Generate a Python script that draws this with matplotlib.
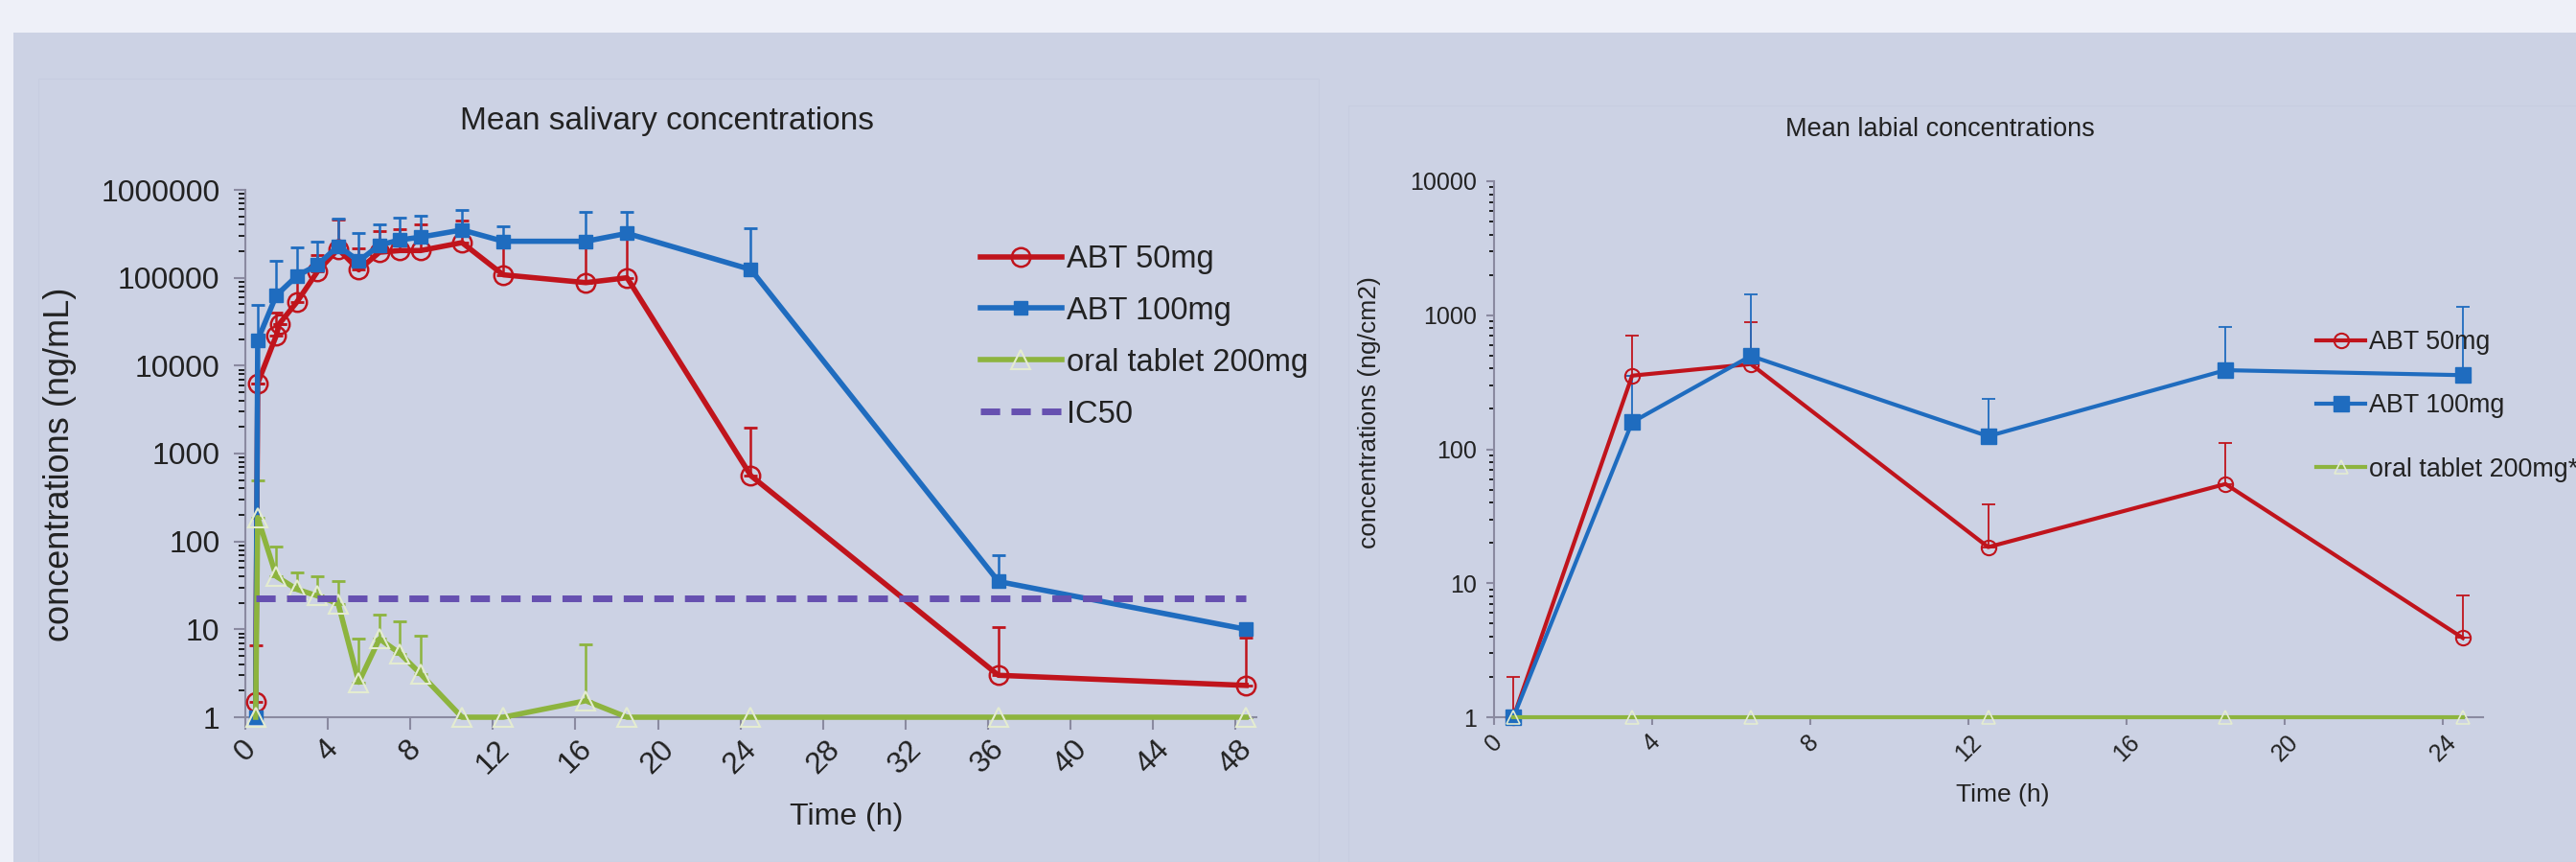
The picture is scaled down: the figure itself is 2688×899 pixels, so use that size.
import numpy as np
import matplotlib
matplotlib.use("Agg")
import matplotlib.pyplot as plt
from matplotlib.patches import Rectangle

# salivary (left panel), times as placed on the time axis
t_sal_50 = [0.5, 0.6, 1.5, 1.65, 2.5, 3.5, 4.5, 5.5, 6.5, 7.5, 8.5, 10.5, 12.5, 16.5, 18.5, 24.5, 36.5, 48.5]
abt50_sal = [1.5, 6300, 22000, 30000, 53000, 118000, 212000, 123000, 195000, 204000, 204000, 251000, 108000, 88000, 100000, 560, 3.0, 2.3]
abt50_sal_top = [6.5, 6300, 40000, 30000, 90000, 180000, 460000, 216000, 336000, 357000, 405000, 444000, 250000, 300000, 300000, 1960, 10.7, 8.1]

t_sal = [0.5, 0.6, 1.5, 2.5, 3.5, 4.5, 5.5, 6.5, 7.5, 8.5, 10.5, 12.5, 16.5, 18.5, 24.5, 36.5, 48.5]
abt100_sal = [1, 19500, 63000, 105000, 140000, 230000, 155000, 235000, 270000, 290000, 350000, 260000, 260000, 320000, 124000, 35, 10]
abt100_sal_top = [1, 49000, 155000, 221000, 258000, 471000, 323000, 405000, 483000, 512000, 595000, 382000, 566000, 566000, 370000, 70, 10]
tab_sal = [1, 187, 40, 28.5, 24, 19.6, 2.5, 7.8, 5.3, 3.1, 1, 1, 1.54, 1, 1, 1, 1]
tab_sal_top = [1, 490, 88, 44, 40, 35.7, 7.8, 14.6, 12.3, 8.5, 1, 1, 6.8, 1, 1, 1, 1]
ic50 = 22.5

# labial (right panel)
t_lab = [0.5, 3.5, 6.5, 12.5, 18.5, 24.5]
abt50_lab = [1, 354, 432, 18.6, 55, 3.9]
abt50_lab_top = [2, 705, 890, 38.5, 112, 8.1]
abt100_lab = [1, 159, 497, 125, 389, 357]
abt100_lab_top = [1, 350, 1430, 238, 813, 1164]
tab_lab = [1, 1, 1, 1, 1, 1]

sal_xticks = [0, 4, 8, 12, 16, 20, 24, 28, 32, 36, 40, 44, 48]
sal_yticks = [1, 10, 100, 1000, 10000, 100000, 1000000]
lab_xticks = [0, 4, 8, 12, 16, 20, 24]
lab_yticks = [1, 10, 100, 1000, 10000]

RED = "#c0141c"
BLUE = "#1f6cbf"
GREEN = "#8db43e"
PURPLE = "#6650b0"
AXC = "#8a8aa0"
TRI = "#e4ecd0"

plt.rcParams["font.family"] = ["Liberation Sans", "DejaVu Sans"]
plt.rcParams["text.color"] = "#222222"

W, H = 2688, 899
fig = plt.figure(figsize=(W / 100, H / 100), dpi=100, facecolor="#eef0f8")
fig.patches.append(Rectangle((14 / W, 0), 1, 1 - 34 / H, transform=fig.transFigure,
                             facecolor="#ccd2e4", edgecolor="none", zorder=-3))
fig.patches.append(Rectangle((40 / W, 0), (1376 - 40) / W, 1 - 82 / H, transform=fig.transFigure,
                             facecolor="none", edgecolor="#c7cde0", lw=1, zorder=-2))
fig.patches.append(Rectangle((1407 / W, 0), 1, 1 - 110 / H, transform=fig.transFigure,
                             facecolor="none", edgecolor="#c7cde0", lw=1, zorder=-2))


def upper(vals, tops):
    v = np.array(vals, float)
    return [np.zeros_like(v), np.array(tops, float) - v]


def style_axes(ax, fs, tl, pad):
    ax.set_facecolor("none")
    for s in ["top", "right"]:
        ax.spines[s].set_visible(False)
    for s in ["left", "bottom"]:
        ax.spines[s].set_color(AXC)
        ax.spines[s].set_linewidth(1.5)
    ax.set_yscale("log")
    ax.tick_params(axis="both", colors=AXC, labelcolor="#222222", labelsize=fs, width=1.5)
    ax.tick_params(axis="y", which="major", length=tl, pad=pad)
    ax.tick_params(axis="y", which="minor", length=tl * 0.6, width=1.2)
    ax.tick_params(axis="x", length=tl, pad=4)


# ---- left: salivary
ax1 = fig.add_axes([256 / W, 151 / H, 1055 / W, 550 / H])
style_axes(ax1, 23, 9, 10)
ax1.set_xlim(0, 49)
ax1.set_ylim(1, 1e6)

ax1.errorbar(t_sal_50, abt50_sal, yerr=upper(abt50_sal, abt50_sal_top), fmt="none",
             ecolor=RED, elinewidth=1.8, capsize=5, capthick=2, zorder=2, clip_on=False)
ax1.errorbar(t_sal, abt100_sal, yerr=upper(abt100_sal, abt100_sal_top), fmt="none",
             ecolor=BLUE, elinewidth=1.8, capsize=5, capthick=2, zorder=2, clip_on=False)
ax1.errorbar(t_sal, tab_sal, yerr=upper(tab_sal, tab_sal_top), fmt="none",
             ecolor=GREEN, elinewidth=1.8, capsize=5, capthick=2, zorder=2, clip_on=False)
l1, = ax1.plot(t_sal_50, abt50_sal, color=RED, lw=4, marker="o", ms=14, mfc="none",
               mec=RED, mew=1.8, clip_on=False, zorder=3, label="ABT 50mg")
l2, = ax1.plot(t_sal, abt100_sal, color=BLUE, lw=4, marker="s", ms=10, mfc=BLUE,
               mec=BLUE, clip_on=False, zorder=4, label="ABT 100mg")
l3, = ax1.plot(t_sal, tab_sal, color=GREEN, lw=4, marker="^", ms=14, mfc="none",
               mec=TRI, mew=1.5, clip_on=False, zorder=5, label="oral tablet 200mg")
l4, = ax1.plot([t_sal[0], t_sal[-1]], [ic50, ic50], color=PURPLE, lw=5, ls=(0, (2.9, 1.7)),
               zorder=6, label="IC50")

ax1.set_xticks(sal_xticks)
ax1.set_xticklabels([str(v) for v in sal_xticks], rotation=45, ha="center", va="top")
ax1.set_yticks(sal_yticks)
ax1.set_yticklabels([str(v) for v in sal_yticks])

fig.text(696 / W, 1 - 127 / H, "Mean salivary concentrations", fontsize=24, ha="center", va="center")
fig.text(63 / W, 1 - 484 / H, "concentrations (ng/mL)", fontsize=26, rotation=90,
         ha="center", va="center")
fig.text(883 / W, 1 - 852 / H, "Time (h)", fontsize=23, ha="center", va="center")

fig.legend(handles=[l1, l2, l3, l4], loc="upper left", bbox_to_anchor=(1023 / W, 1 - 255 / H),
           bbox_transform=fig.transFigure, frameon=False, fontsize=23.5, borderpad=0,
           borderaxespad=0, handlelength=2.6, handletextpad=0.15, labelspacing=0.7)

# ---- right: labial
ax2 = fig.add_axes([1558.6 / W, 151 / H, 1032 / W, 559 / H])
style_axes(ax2, 18, 6, 7)
ax2.set_xlim(0, 25)
ax2.set_ylim(1, 1e4)

ax2.errorbar(t_lab, abt50_lab, yerr=upper(abt50_lab, abt50_lab_top), fmt="none",
             ecolor=RED, elinewidth=1.3, capsize=5, capthick=1.3, zorder=2, clip_on=False)
ax2.errorbar(t_lab, abt100_lab, yerr=upper(abt100_lab, abt100_lab_top), fmt="none",
             ecolor=BLUE, elinewidth=1.3, capsize=5, capthick=1.3, zorder=2, clip_on=False)
r1, = ax2.plot(t_lab, abt50_lab, color=RED, lw=3, marker="o", ms=11, mfc="none",
               mec=RED, mew=1.5, clip_on=False, zorder=3, label="ABT 50mg")
r2, = ax2.plot(t_lab, abt100_lab, color=BLUE, lw=3, marker="s", ms=11, mfc=BLUE,
               mec=BLUE, clip_on=False, zorder=4, label="ABT 100mg")
r3, = ax2.plot(t_lab, tab_lab, color=GREEN, lw=3, marker="^", ms=10, mfc="none",
               mec=TRI, mew=1.2, clip_on=False, zorder=5, label="oral tablet 200mg*")

ax2.set_xticks(lab_xticks)
ax2.set_xticklabels([str(v) for v in lab_xticks], rotation=45, ha="center", va="top")
ax2.set_yticks(lab_yticks)
ax2.set_yticklabels([str(v) for v in lab_yticks])

fig.text(2024 / W, 1 - 135 / H, "Mean labial concentrations", fontsize=19.5, ha="center", va="center")
fig.text(1429 / W, 1 - 430 / H, "concentrations (ng/cm2)", fontsize=19, rotation=90,
         ha="center", va="center")
fig.text(2090 / W, 1 - 829 / H, "Time (h)", fontsize=19, ha="center", va="center")

fig.legend(handles=[r1, r2, r3], loc="upper left", bbox_to_anchor=(2417 / W, 1 - 344 / H),
           bbox_transform=fig.transFigure, frameon=False, fontsize=19.4, borderpad=0,
           borderaxespad=0, handlelength=1.9, handletextpad=0.15, labelspacing=1.5)

fig.savefig("out.png", dpi=100, facecolor=fig.get_facecolor())
